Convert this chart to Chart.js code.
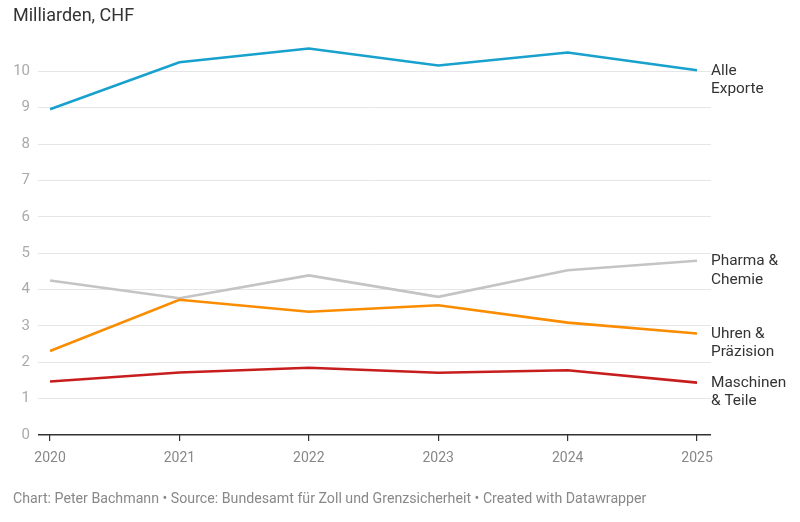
<!DOCTYPE html>
<html>
<head>
<meta charset="utf-8">
<script src="https://cdn.jsdelivr.net/npm/chart.js@4"></script>
<style>
  body { margin: 0; background: #fff; font-family: Roboto, sans-serif; }
  #wrap { position: relative; width: 800px; height: 522px; }
  #titel { position: absolute; left: 13px; top: 4px; font-size: 18px; color: #333; }
  #quelle { position: absolute; left: 13px; top: 490px; font-size: 14.2px; color: #888; }
</style>
</head>
<body>
<div id="wrap">
  <canvas id="exporteChart" width="800" height="522"></canvas>
  <div id="titel">Milliarden, CHF</div>
  <div id="quelle">Chart: Peter Bachmann • Source: Bundesamt für Zoll und Grenzsicherheit • Created with Datawrapper</div>
</div>
<script>
// Daten (Milliarden CHF)
const jahre = [2020, 2021, 2022, 2023, 2024, 2025];
const alleExporte = [8.96, 10.25, 10.63, 10.16, 10.52, 10.03];
const pharmaChemie = [4.25, 3.76, 4.39, 3.80, 4.53, 4.79];
const uhrenPraezision = [2.31, 3.72, 3.39, 3.57, 3.09, 2.79];
const maschinenTeile = [1.47, 1.72, 1.85, 1.71, 1.78, 1.44];
const yTicks = [0, 1, 2, 3, 4, 5, 6, 7, 8, 9, 10];

const serien = [
  { label: ["Alle", "Exporte"], werte: alleExporte, farbe: "#18a1cd" },
  { label: ["Pharma &", "Chemie"], werte: pharmaChemie, farbe: "#c4c4c4" },
  { label: ["Uhren &", "Präzision"], werte: uhrenPraezision, farbe: "#fa8c00" },
  { label: ["Maschinen", "& Teile"], werte: maschinenTeile, farbe: "#c71e1d" }
];

// Beschriftung am Linienende
const endLabels = {
  id: "endLabels",
  afterDatasetsDraw(chart) {
    const ctx = chart.ctx;
    ctx.save();
    ctx.font = "15.4px Roboto";
    ctx.fillStyle = "#333";
    ctx.textBaseline = "middle";
    chart.data.datasets.forEach((ds, i) => {
      const pt = chart.getDatasetMeta(i).data[ds.data.length - 1];
      ds.endLabel.forEach((zeile, j) => {
        ctx.fillText(zeile, chart.chartArea.right, pt.y + 0.5 + j * 18.5);
      });
    });
    ctx.restore();
  }
};

new Chart(document.getElementById("exporteChart"), {
  type: "line",
  data: {
    datasets: serien.map(s => ({
      data: jahre.map((j, i) => ({ x: j, y: s.werte[i] })),
      endLabel: s.label,
      borderColor: s.farbe,
      borderWidth: 2.6,
      pointRadius: 0,
      tension: 0,
      fill: false
    })).reverse()
  },
  options: {
    responsive: false,
    animation: false,
    layout: { padding: { left: 0, right: 89, top: 35, bottom: 0 } },
    plugins: { legend: { display: false }, tooltip: { enabled: false } },
    scales: {
      x: {
        type: "linear",
        min: 2019.907,
        max: 2025.108,
        afterBuildTicks: s => { s.ticks = jahre.map(v => ({ value: v })); },
        afterFit: s => { s.height = 87; },
        border: { display: false },
        grid: { drawOnChartArea: false, drawTicks: true, tickLength: 6, color: "#333", lineWidth: 1.2 },
        ticks: {
          padding: 9,
          color: "#888",
          font: { family: "Roboto", size: 14 },
          callback: v => String(v),
          maxRotation: 0
        }
      },
      y: {
        min: 0,
        max: 11,
        afterBuildTicks: s => { s.ticks = yTicks.map(v => ({ value: v })); },
        afterFit: s => { s.width = 38; },
        border: { display: false },
        grid: {
          drawTicks: false,
          color: c => c.tick && c.tick.value === 0 ? "#333" : "#e6e6e6",
          lineWidth: c => c.tick && c.tick.value === 0 ? 1.6 : 1
        },
        ticks: {
          padding: 8,
          color: "#aaa",
          font: { family: "Roboto", size: 15 }
        }
      }
    }
  },
  plugins: [endLabels]
});
</script>
</body>
</html>
